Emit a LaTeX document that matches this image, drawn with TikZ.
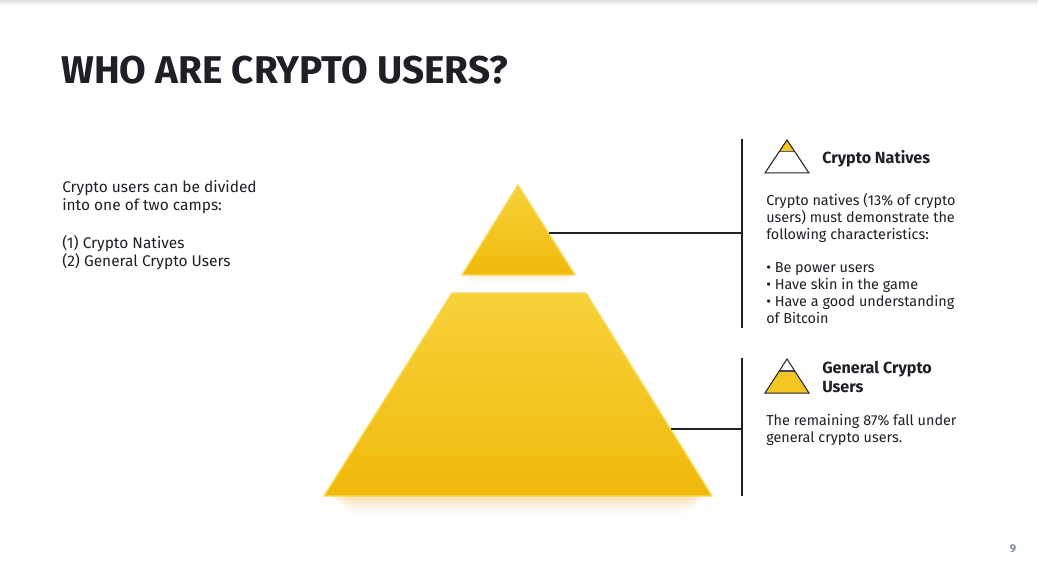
\documentclass[tikz,border=0pt]{standalone}
\usepackage{fontspec}
\setmainfont{Fira Sans}
\usetikzlibrary{fadings}
\definecolor{ink}{HTML}{1E2026}
\definecolor{ytop}{HTML}{F7D23A}
\definecolor{ybot}{HTML}{F0B90B}
\definecolor{yedge}{HTML}{F9DA55}
\definecolor{yicon}{HTML}{F3C623}
\definecolor{glow}{HTML}{F9B84A}
\definecolor{pgnum}{HTML}{848E9C}
\tikzfading[name=fadedown, top color=transparent!0, bottom color=transparent!100]
\begin{document}
\begin{tikzpicture}[x=0.75pt,y=-0.75pt,
  txt/.style={inner sep=0pt, anchor=north west, align=left, text=ink},
  body/.style={txt, font=\fontsize{11.6}{13.5}\selectfont},
  rbody/.style={txt, font=\fontsize{10.8}{12.6}\selectfont},
  head/.style={txt, font=\fontsize{12.1}{14.2}\selectfont\bfseries},
  conn/.style={draw=ink, line width=1.5pt},
  piece/.style={draw=yedge, line width=1.1pt, line join=round, top color=ytop, bottom color=ybot, shading angle=0},
  icon/.style={draw=ink, line width=0.75pt, line join=miter},
]
\useasboundingbox (0,0) rectangle (1039,574);
\fill[white] (0,0) rectangle (1039,574);
% faint top shadow
\fill[black!12, path fading=fadedown] (0,0) rectangle (1039,5);

% title
\node[txt, font=\fontsize{29}{32}\selectfont\bfseries] (title) at (61,56) {WHO ARE CRYPTO USERS?};

% left text
\node[body] (intro) at (62,180) {Crypto users can be divided\\into one of two camps:\\[15pt](1) Crypto Natives\\(2) General Crypto Users};

% glow under pyramid
\foreach \i/\o in {0/0.12,3/0.10,6/0.08,9/0.06,12/0.04,15/0.025}{
  \fill[glow, opacity=\o] (332+\i,496) -- (704-\i,496) -- (700-\i,500+\i) -- (336+\i,500+\i) -- cycle;
}
\fill[glow, opacity=0.18, path fading=fadedown] (468,275) rectangle (569,282);

% pyramid pieces
\path[piece] (518,185) -- (575,275) -- (462,275) -- cycle;
\path[piece] (452,293) -- (586,293) -- (712,496) -- (324,496) -- cycle;
\coordinate (topright) at (549,233);
\coordinate (botright) at (671,429);

% vertical bars
\coordinate (v1a) at (742,139);
\coordinate (v1b) at (742,328);
\coordinate (v2a) at (742,358);
\coordinate (v2b) at (742,496);
\coordinate (h1) at (742,233);
\coordinate (h2) at (742,429);
\draw[conn] (v1a) -- (v1b);
\draw[conn] (v2a) -- (v2b);
\draw[conn] (topright) -- (h1);
\draw[conn] (botright) -- (h2);

% icon 1
\fill[yicon] (787,140) -- (794.3,151) -- (779.7,151) -- cycle;
\draw[ink!70, line width=0.6pt] (779.7,151) -- (794.3,151);
\draw[icon] (787,140) -- (809,173) -- (765,173) -- cycle;
% icon 2
\fill[yicon] (779.2,371) -- (794.8,371) -- (809,393) -- (765,393) -- cycle;
\draw[ink!80, line width=1pt] (779.2,371) -- (794.8,371);
\draw[icon] (787,359) -- (809,393) -- (765,393) -- cycle;

% right texts
\node[head] (h1txt) at (822,150) {Crypto Natives};
\node[rbody] (b1txt) at (766,193) {Crypto natives (13\% of crypto\\users) must demonstrate the\\following characteristics:\\[12.6pt]• Be power users\\• Have skin in the game\\• Have a good understanding\\of Bitcoin};
\node[head] (h2txt) at (822,361) {General Crypto\\Users};
\node[rbody] (b2txt) at (766,414) {The remaining 87\% fall under\\general crypto users.};

% page number
\node[inner sep=0pt, text=pgnum, font=\fontsize{8.5}{10}\selectfont\bfseries] (pg) at (1013,549) {9};
\end{tikzpicture}
\end{document}
